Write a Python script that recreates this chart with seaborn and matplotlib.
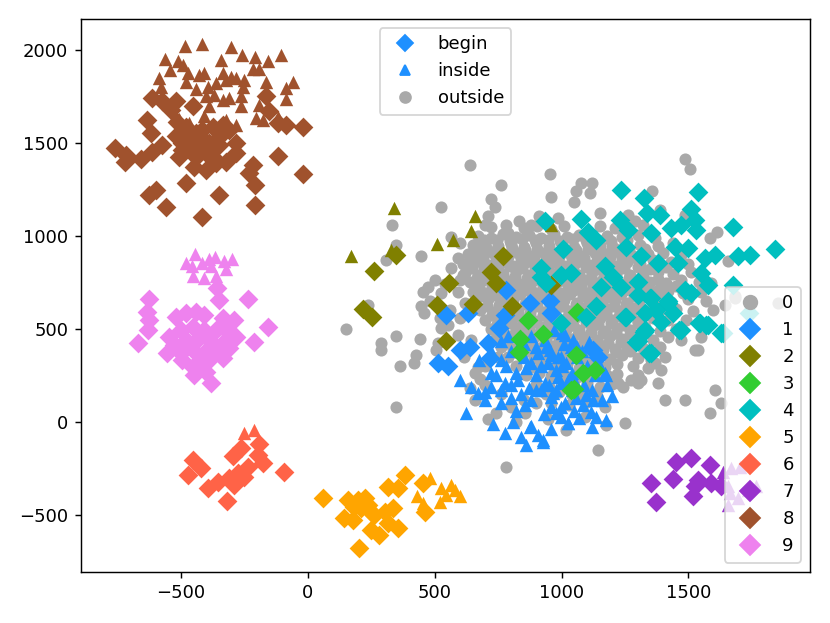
import numpy as np
import pandas as pd
import seaborn as sns
import matplotlib
matplotlib.use('Agg')
import matplotlib.pyplot as plt
from matplotlib.lines import Line2D

# cluster colours (0 = noise / outside points)
colors = ['darkgrey', 'dodgerblue', 'olive', 'limegreen', 'c', 'orange',
          'tomato', 'darkorchid', 'sienna', 'violet']

# --- points ---
outside0 = [
    (637, 1381), (953, 1333), (762, 1274), (957, 1211), (723, 1197), (736, 1157), (525, 1157),
    (332, 1059), (709, 1104), (699, 1059), (834, 1082), (880, 1059), (913, 1104), (986, 1095),
    (347, 951), (446, 892), (308, 871), (565, 996), (598, 960), (591, 880), (670, 942), (788, 1014),
    (236, 629), (150, 498), (288, 426), (288, 387), (347, 462), (361, 301), (427, 360), (420, 315),
    (440, 444), (347, 79), (446, 620), (459, 584), (472, 727), (499, 763), (525, 691), (565, 826),
    (611, 790), (525, 503), (512, 423), (505, 387), (551, 521), (591, 467), (644, 441), (617, 351),
    (670, 297), (657, 118), (709, 13), (782, -240), (946, 14), (1019, -43), (854, 46),
    (1486, 1412), (1505, 1358), (1075, 1286), (1120, 1286), (1058, 1238), (1114, 1229), (1051, 1179),
    (1150, 1122), (1358, 1238), (1262, 1113), (1288, 1077), (1387, 1139), (1486, 1113), (1611, 1023),
    (1584, 987), (1657, 862), (1683, 674), (1643, 629), (1597, 602), (1551, 458), (1472, 441),
    (1525, 387), (1604, 172), (1630, 100), (1584, 46), (1486, 118), (1407, 118), (1380, 208),
    (1407, 351), (1367, 315), (1301, 252), (1301, 208), (1275, 225), (1249, -7), (1176, -16),
    (1143, -151), (1091, 28), (1078, 127), (1170, 82), (1222, 208), (1183, 244), (1354, 333),
    (1854, 638), (1538, 387), (1683, 665), (1314, 226), (1242, 190), (1393, 280),
    (455, 700), (480, 650), (520, 560), (560, 600), (600, 560), (620, 640), (590, 700), (540, 740),
    (600, 760), (700, 200), (760, 150), (800, 80), (850, 120), (900, 100), (740, 50), (820, 0),
    (680, 230), (640, 180), (660, 260), (700, 300), (750, 350),
    # dense core
    (720, 1045), (780, 1060), (850, 1040), (905, 1055), (960, 1035), (1010, 1050), (1150, 1050),
    (1210, 1040), (1320, 1060),
    (670, 1000), (720, 990), (770, 1010), (820, 995), (870, 1005), (920, 990), (970, 1010),
    (1020, 995), (1070, 1005), (1120, 990), (1180, 1000), (1240, 995), (1300, 1005), (1370, 990),
    (695, 975), (745, 980), (795, 970), (845, 985), (895, 975), (945, 980), (995, 970), (1045, 985),
    (1095, 975), (1145, 980), (1195, 970), (1260, 980),
    (650, 950), (700, 960), (750, 945), (800, 955), (850, 940), (900, 960), (950, 945), (1000, 955),
    (1050, 940), (1100, 960), (1150, 950), (1200, 940), (1250, 960), (1310, 950), (1380, 945),
    (1440, 960),
    (655, 925), (705, 930), (755, 920), (805, 935), (855, 925), (905, 930), (955, 920), (1005, 935),
    (1055, 925), (1105, 930), (1155, 920), (1205, 935), (1265, 925), (1330, 930),
    (630, 900), (680, 890), (730, 905), (780, 895), (830, 910), (880, 890), (930, 905), (980, 895),
    (1030, 910), (1080, 890), (1130, 905), (1180, 895), (1230, 910), (1280, 890), (1340, 900),
    (1400, 905), (1470, 895),
    (640, 875), (690, 880), (740, 870), (790, 885), (840, 875), (890, 880), (940, 870), (990, 885),
    (1040, 875), (1090, 880), (1140, 870), (1190, 885), (1240, 875), (1295, 880), (1360, 870),
    (610, 850), (660, 860), (710, 845), (760, 855), (810, 840), (860, 860), (910, 845), (960, 855),
    (1010, 840), (1060, 860), (1110, 845), (1160, 855), (1210, 840), (1260, 860), (1310, 850),
    (1370, 845), (1430, 860), (1500, 850),
    (645, 825), (695, 830), (745, 820), (795, 835), (845, 825), (895, 830), (945, 820), (995, 835),
    (1045, 825), (1095, 830), (1145, 820), (1195, 835), (1245, 825), (1300, 830), (1350, 820),
    (1410, 830),
    (620, 800), (670, 790), (720, 805), (770, 795), (820, 810), (870, 790), (920, 805), (970, 795),
    (1020, 810), (1070, 790), (1120, 805), (1170, 795), (1220, 810), (1270, 790), (1320, 800),
    (1380, 805), (1440, 795), (1510, 805),
    (665, 775), (715, 780), (765, 770), (815, 785), (865, 775), (915, 780), (965, 770), (1015, 785),
    (1065, 775), (1115, 780), (1165, 770), (1215, 785), (1265, 775), (1320, 780), (1380, 770),
    (640, 750), (690, 760), (740, 745), (790, 755), (840, 740), (890, 760), (940, 745), (990, 755),
    (1040, 740), (1090, 760), (1140, 745), (1190, 755), (1240, 740), (1290, 760), (1350, 750),
    (1410, 745), (1470, 760), (1540, 750), (1590, 745),
    (675, 725), (725, 730), (775, 720), (825, 735), (875, 725), (925, 730), (975, 720), (1025, 735),
    (1075, 725), (1125, 730), (1175, 720), (1225, 735), (1275, 725), (1330, 730), (1390, 720),
    (1450, 730),
    (650, 700), (700, 690), (750, 705), (800, 695), (850, 710), (900, 690), (950, 705), (1000, 695),
    (1050, 710), (1100, 690), (1150, 705), (1200, 695), (1250, 710), (1300, 690), (1360, 700),
    (1420, 705), (1480, 695), (1550, 700),
    (685, 675), (735, 680), (785, 670), (835, 685), (885, 675), (935, 680), (985, 670), (1035, 685),
    (1085, 675), (1135, 680), (1185, 670), (1235, 685), (1285, 675), (1340, 680), (1400, 670),
    (660, 650), (710, 660), (760, 645), (810, 655), (860, 640), (910, 660), (960, 645), (1010, 655),
    (1060, 640), (1110, 660), (1160, 645), (1210, 655), (1260, 640), (1310, 660), (1370, 650),
    (1430, 645), (1500, 660), (1570, 650),
    (705, 625), (755, 630), (805, 620), (855, 635), (905, 625), (955, 630), (1005, 620), (1055, 635),
    (1105, 625), (1155, 630), (1205, 620), (1255, 635), (1305, 625), (1360, 630),
    (680, 600), (730, 590), (780, 605), (830, 595), (880, 610), (930, 590), (980, 605), (1030, 595),
    (1080, 610), (1130, 590), (1180, 605), (1230, 595), (1280, 610), (1330, 590), (1390, 600),
    (1450, 605), (1520, 595),
    (725, 575), (775, 580), (825, 570), (875, 585), (925, 575), (975, 580), (1025, 570), (1075, 585),
    (1125, 575), (1175, 580), (1225, 570), (1275, 585), (1330, 575),
    (700, 550), (750, 560), (800, 545), (850, 555), (900, 540), (950, 560), (1000, 545), (1050, 555),
    (1100, 540), (1150, 560), (1200, 545), (1250, 555), (1300, 540), (1360, 560), (1420, 550),
    (1490, 545),
    (745, 525), (795, 530), (845, 520), (895, 535), (945, 525), (995, 530), (1045, 520), (1095, 535),
    (1145, 525), (1195, 530), (1245, 520), (1300, 530),
    (720, 500), (770, 490), (820, 505), (870, 495), (920, 510), (970, 490), (1020, 505), (1070, 495),
    (1120, 510), (1170, 490), (1220, 505), (1270, 495), (1330, 510), (1390, 490), (1450, 500),
    (765, 475), (815, 480), (865, 470), (915, 485), (965, 475), (1015, 480), (1065, 470), (1115, 485),
    (1165, 475), (1215, 480), (1270, 470), (1330, 480),
    (740, 450), (790, 460), (840, 445), (890, 455), (940, 440), (990, 460), (1040, 445), (1090, 455),
    (1140, 440), (1190, 460), (1240, 445), (1300, 455), (1360, 440), (1420, 455),
    (785, 425), (835, 430), (885, 420), (935, 435), (985, 425), (1035, 430), (1085, 420), (1135, 435),
    (1185, 425), (1235, 430), (1290, 420),
    (760, 400), (810, 390), (860, 405), (910, 395), (960, 410), (1010, 390), (1060, 405), (1110, 395),
    (1160, 410), (1210, 390), (1260, 405), (1320, 395), (1390, 400),
    (815, 375), (865, 380), (915, 370), (965, 385), (1015, 375), (1065, 380), (1115, 370), (1165, 385),
    (1215, 375), (1270, 380),
    (790, 350), (840, 360), (890, 345), (940, 355), (990, 340), (1040, 360), (1090, 345), (1140, 355),
    (1190, 340), (1240, 360), (1300, 345),
    (820, 300), (870, 290), (920, 305), (970, 295), (1020, 310), (1070, 290), (1120, 305), (1170, 295),
    (1220, 310), (1280, 300), (1340, 290),
    (860, 250), (910, 260), (960, 245), (1010, 255), (1060, 240), (1110, 260), (1160, 245), (1220, 255),
    (900, 200), (950, 190), (1000, 205), (1050, 195), (1100, 210), (1150, 190), (1200, 205),
    (940, 150), (990, 160), (1040, 145), (1090, 155), (1140, 140),
    (960, 100), (1030, 90), (1100, 105),
]

begin1 = [(782, 706), (874, 641), (953, 647), (959, 584), (545, 575), (630, 584), (775, 575),
          (755, 503), (709, 423), (598, 387), (512, 315), (551, 301), (716, 342), (1124, 387),
          (1143, 351), (639, 403)]
inside1 = [(598, 226), (644, 190), (670, 154), (624, 46), (723, 261), (762, 432), (676, 333),
           (723, 190), (775, 208), (802, 127), (775, -58), (808, 1), (841, -79), (861, -124),
           (874, -25), (907, -70), (926, -106), (828, 226), (880, 315), (907, 369), (946, 315),
           (986, 351), (933, 208), (959, 136), (999, 208), (1012, 100), (999, 28), (1025, -7),
           (880, 118), (854, 91), (828, 405), (880, 459), (933, 441),
           (972, 494), (1012, 467), (1045, 441), (1038, 405), (953, 387), (999, 351), (946, 315),
           (1018, 315), (985, 243), (1025, 226), (1051, 226), (1058, 127), (1084, 91), (1124, 118),
           (1117, 55), (1137, 28), (1170, 261), (1176, 252), (926, -97), (1025, -4), (999, 82),
           (966, 154), (920, 172), (979, 46), (959, 82), (1097, 145), (1176, 11),
           (900, 250), (950, 200), (1000, 300), (870, 180), (820, 260), (940, 400), (1060, 350),
           (1100, 300), (1090, 200), (780, 300), (740, 250), (700, 120),
           (720, 380), (760, 330), (800, 380), (850, 350), (900, 400), (960, 360), (1010, 420),
           (1060, 400), (1110, 430), (1150, 300), (1130, 250), (1080, 280), (1040, 260), (980, 280),
           (920, 300), (860, 290), (800, 200), (760, 170), (700, 160), (840, 150), (900, 170),
           (980, 170), (1040, 170), (1120, 170), (1180, 200), (1160, 120), (1200, 140), (1050, 60),
           (930, 40), (880, -20), (820, 60), (760, 100), (730, -10), (960, -40), (1070, 20),
           (1120, -30), (850, 420), (790, 460), (1000, 480), (1080, 380)]

begin2 = [(262, 813), (347, 898), (216, 605), (251, 566), (558, 745), (509, 629), (545, 432),
          (650, 634), (722, 808), (742, 745), (769, 892), (804, 620), (959, 736)]
inside2 = [(341, 1148), (170, 889), (328, 924), (509, 957), (571, 975), (641, 1028), (657, 1104),
           (959, 1059)]

begin3 = [(867, 545), (838, 444), (834, 378), (926, 473), (1038, 172), (1062, 593), (1058, 360),
          (1084, 265), (1130, 279), (1051, 175)]
inside3 = []

begin4 = [(1233, 1247), (1325, 1202), (1538, 1233), (1075, 1089), (1229, 1086), (1338, 1122),
          (1387, 1113), (1512, 1143), (1525, 1086), (1676, 1046), (1841, 928), (1104, 1023),
          (1137, 978), (1262, 1032), (1354, 1014), (1433, 1041), (1472, 1059), (1532, 1032),
          (1446, 942), (1499, 933), (1565, 880), (1604, 898), (1696, 889), (1742, 898), (1005, 928),
          (1255, 942), (1314, 889), (1380, 853), (1459, 853), (1551, 799), (1578, 736), (1676, 736),
          (1038, 799), (1170, 835), (1203, 781), (1157, 727), (1236, 727), (1301, 754), (1301, 682),
          (1347, 665), (1420, 647), (1486, 709), (1512, 691), (1137, 620), (1249, 566), (1328, 584),
          (1374, 602), (1440, 584), (1393, 539), (1472, 494), (1545, 530), (1578, 521), (1637, 480),
          (999, 530), (1097, 566), (1328, 494), (1301, 432), (1354, 369), (933, 1077), (939, 745),
          (999, 790), (920, 826), (920, 781), (1741, 586), (1630, 478), (1571, 521), (1543, 532),
          (1464, 495), (1346, 371), (1295, 430), (1326, 484), (1421, 640), (1354, 667), (1255, 565)]
inside4 = []

begin5 = [(58, -410), (157, -419), (196, -419), (223, -410), (144, -518), (177, -527), (210, -464),
          (249, -482), (262, -500), (302, -482), (335, -464), (315, -348), (354, -357), (381, -285),
          (453, -330), (460, -482), (249, -581), (282, -608), (315, -545), (354, -572), (203, -679),
          (183, -455), (236, -446)]
inside5 = [(483, -303), (431, -401), (453, -437), (525, -357), (565, -339), (598, -401), (519, -428),
           (578, -366), (545, -392)]

begin6 = [(-455, -204), (-422, -249), (-475, -285), (-396, -353), (-356, -321), (-319, -425),
          (-297, -186), (-264, -138), (-192, -120), (-198, -177), (-179, -222), (-238, -240),
          (-277, -276), (-310, -303), (-291, -339), (-251, -294), (-93, -267)]
inside6 = [(-254, -61), (-212, -43)]

begin7 = [(1354, -326), (1373, -433), (1439, -308), (1452, -218), (1512, -195), (1538, -311),
          (1518, -401), (1584, -231), (1590, -329), (1630, -347), (1525, -347)]
inside7 = [(1636, -267), (1663, -383), (1656, -446), (1669, -249), (1702, -240), (1656, -347),
           (1696, -410), (1735, -365), (1768, -344)]

begin8 = [(-616, 1740), (-574, 1722), (-541, 1677), (-521, 1722), (-455, 1698), (-633, 1623),
          (-620, 1551), (-574, 1489), (-515, 1614), (-761, 1471), (-719, 1435), (-721, 1399),
          (-659, 1412), (-616, 1448), (-521, 1534), (-495, 1498), (-442, 1551), (-416, 1569),
          (-376, 1587), (-337, 1596), (-311, 1569), (-469, 1471), (-429, 1480), (-390, 1498),
          (-350, 1489), (-508, 1426), (-449, 1372), (-403, 1354), (-363, 1390), (-324, 1399),
          (-284, 1498), (-218, 1381), (-232, 1336), (-208, 1274), (-120, 1430), (-166, 1749),
          (-153, 1668), (-120, 1605), (-87, 1596), (-21, 1584), (-21, 1333), (-482, 1286),
          (-350, 1220), (-600, 1247), (-626, 1220), (-561, 1157), (-416, 1100), (-208, 1166),
          (-482, 1587), (-442, 1426), (-376, 1426), (-403, 1444), (-495, 1462), (-284, 1444),
          (-460, 1520), (-420, 1530), (-380, 1460), (-350, 1530), (-440, 1490)]
inside8 = [(-484, 2021), (-418, 2032), (-304, 2014), (-260, 1973), (-208, 1960), (-105, 1973),
           (-563, 1949), (-514, 1937), (-492, 1919), (-343, 1942), (-156, 1937), (-545, 1892),
           (-218, 1896), (-192, 1896), (-475, 1874), (-429, 1865), (-409, 1874), (-337, 1874),
           (-304, 1856), (-284, 1847), (-251, 1838), (-166, 1824), (-58, 1824), (-587, 1847),
           (-482, 1829), (-442, 1788), (-396, 1802), (-363, 1820), (-324, 1838), (-258, 1802),
           (-87, 1793), (-580, 1799), (-403, 1749), (-370, 1758), (-337, 1731), (-310, 1740),
           (-264, 1749), (-87, 1734), (-192, 1704), (-389, 1695), (-409, 1645), (-264, 1695),
           (-205, 1632), (-179, 1623), (-120, 1637), (-508, 1627), (-468, 1605), (-284, 1596),
           (-324, 1623)]

begin9 = [(-626, 659), (-633, 593), (-626, 548), (-629, 494), (-672, 422), (-357, 718), (-350, 655),
          (-238, 659), (-521, 566), (-482, 584), (-442, 593), (-409, 575), (-337, 557), (-291, 548),
          (-159, 509), (-212, 431), (-547, 458), (-501, 494), (-455, 512), (-409, 494), (-363, 494),
          (-317, 485), (-284, 458), (-528, 414), (-482, 440), (-436, 440), (-390, 440), (-337, 422),
          (-554, 369), (-501, 369), (-455, 387), (-409, 369), (-363, 387), (-311, 396), (-495, 333),
          (-436, 315), (-390, 333), (-337, 342), (-449, 252), (-403, 270), (-383, 207), (-455, 297)]
inside9 = [(-446, 903), (-482, 856), (-458, 835), (-416, 853), (-390, 874), (-366, 888), (-330, 862),
           (-300, 874), (-455, 784), (-409, 772), (-363, 784), (-324, 820), (-383, 835)]

begins = [[], begin1, begin2, begin3, begin4, begin5, begin6, begin7, begin8, begin9]
insides = [[], inside1, inside2, inside3, inside4, inside5, inside6, inside7, inside8, inside9]

rows = [(x, y, 0, 'outside') for x, y in outside0]
for k in range(1, 10):
    rows += [(x, y, k, 'begin') for x, y in begins[k]]
    rows += [(x, y, k, 'inside') for x, y in insides[k]]
df = pd.DataFrame(rows, columns=['x', 'y', 'cluster', 'kind'])

markers = {'begin': 'D', 'inside': '^', 'outside': 'o'}
sizes = {'begin': 60, 'inside': 55, 'outside': 45}

fig, ax = plt.subplots(figsize=(830 / 130, 623 / 130), dpi=130)
fig.subplots_adjust(left=0.0976, right=0.976, bottom=0.0824, top=0.9695)

for k in range(10):
    for kind in ['outside', 'begin', 'inside']:
        sub = df[(df['cluster'] == k) & (df['kind'] == kind)]
        if len(sub) == 0:
            continue
        sns.scatterplot(data=sub, x='x', y='y', marker=markers[kind], color=colors[k],
                        s=sizes[kind], linewidth=0, ax=ax, legend=False)

ax.set_xlim(-895, 1980)
ax.set_ylim(-805, 2165)
ax.set_xlabel('')
ax.set_ylabel('')

# legend for point type
kind_handles = [
    Line2D([], [], ls='', marker='D', color='dodgerblue', markersize=6, label='begin'),
    Line2D([], [], ls='', marker='^', color='dodgerblue', markersize=6, label='inside'),
    Line2D([], [], ls='', marker='o', color='darkgrey', markersize=6, label='outside'),
]
leg1 = ax.legend(handles=kind_handles, loc='upper center')
ax.add_artist(leg1)

# legend for clusters
clu_handles = [Line2D([], [], ls='', marker='o' if k == 0 else 'D', color=colors[k],
                      markersize=7.5, label=str(k)) for k in range(10)]
ax.legend(handles=clu_handles, loc='lower right')

fig.savefig('out.png', dpi=130)
